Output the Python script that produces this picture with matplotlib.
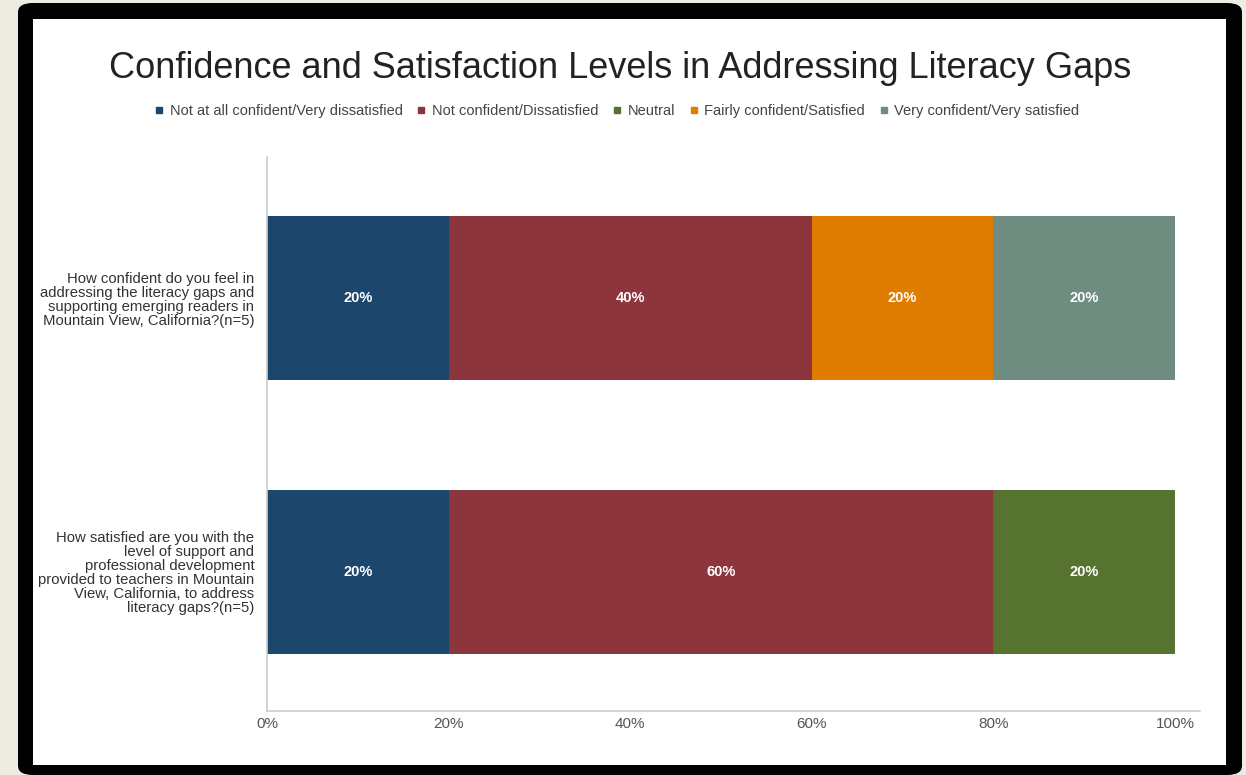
import matplotlib.pyplot as plt
from matplotlib.patches import FancyBboxPatch, Rectangle
from matplotlib.lines import Line2D
import numpy as np

plt.rcParams['font.family'] = ['Liberation Sans', 'DejaVu Sans']

questions = [
    "How confident do you feel in\naddressing the literacy gaps and\nsupporting emerging readers in\nMountain View, California?(n=5)",
    "How satisfied are you with the\nlevel of support and\nprofessional development\nprovided to teachers in Mountain\nView, California, to address\nliteracy gaps?(n=5)",
]
levels = [
    "Not at all confident/Very dissatisfied",
    "Not confident/Dissatisfied",
    "Neutral",
    "Fairly confident/Satisfied",
    "Very confident/Very satisfied",
]
colors = ["#1c466b", "#8c353c", "#56732f", "#e07c00", "#6e8c80"]

# percent share of each level, one list per question
not_at_all = [20, 20]
not_conf = [40, 60]
neutral = [0, 20]
fairly = [20, 0]
very = [20, 0]
series = [not_at_all, not_conf, neutral, fairly, very]

ticks = [0, 20, 40, 60, 80, 100]
tick_labels = ["0%", "20%", "40%", "60%", "80%", "100%"]

fig = plt.figure(figsize=(12.46, 7.75), dpi=100)
fig.patch.set_facecolor("#eeebe2")

# black rounded frame with white panel, kept behind the axes
frame = FancyBboxPatch((18 / 1246, 0), (1242 - 18) / 1246, 772 / 775,
                       boxstyle="round,pad=0,rounding_size=0.012",
                       transform=fig.transFigure, facecolor="black",
                       edgecolor="none", zorder=-2)
fig.patches.append(frame)
panel = Rectangle((33 / 1246, (775 - 765) / 775), (1226 - 33) / 1246, (765 - 19) / 775,
                  transform=fig.transFigure, facecolor="white", edgecolor="none", zorder=-1)
fig.patches.append(panel)

ax = fig.add_axes([267 / 1246, 1 - 711 / 775, (1200 - 267) / 1246, (711 - 157) / 775])
ax.set_facecolor("none")

y = np.arange(len(questions))
left = np.zeros(len(questions))
for vals, col in zip(series, colors):
    vals = np.array(vals, dtype=float)
    bars = ax.barh(y, vals, left=left, height=0.6, color=col)
    for b, v in zip(bars, vals):
        if v > 0:
            ax.text(b.get_x() + b.get_width() / 2, b.get_y() + b.get_height() / 2,
                    f"{v:.0f}%", ha="center", va="center", color="white",
                    fontsize=10.5, fontweight="bold")
    left += vals

ax.set_xlim(0, 102.75)
ax.set_ylim(1.51, -0.516)
ax.set_yticks(y)
ax.set_yticklabels(questions, fontsize=10.7, color="#333333", linespacing=1.0)
ax.set_xticks(ticks)
ax.set_xticklabels(tick_labels, fontsize=11, color="#555555")
ax.tick_params(axis="both", length=0)
ax.tick_params(axis="y", pad=9)
ax.tick_params(axis="x", pad=4)
for s in ["top", "right"]:
    ax.spines[s].set_visible(False)
for s in ["left", "bottom"]:
    ax.spines[s].set_color("#cccccc")
    ax.spines[s].set_linewidth(1.2)

fig.text(620 / 1246, 1 - 68 / 775, "Confidence and Satisfaction Levels in Addressing Literacy Gaps",
         ha="center", va="center", fontsize=26, color="#222222")

handles = [Line2D([], [], marker="s", linestyle="none", markersize=5,
                  markerfacecolor=c, markeredgecolor=c) for c in colors]
fig.legend(handles, levels, loc="center", bbox_to_anchor=(617 / 1246, 1 - 111 / 775),
           ncol=5, frameon=False, fontsize=10.5, handlelength=0.6, handletextpad=0.4,
           columnspacing=1.0, labelcolor="#444444")

fig.savefig("out.png", dpi=100, facecolor=fig.get_facecolor())
